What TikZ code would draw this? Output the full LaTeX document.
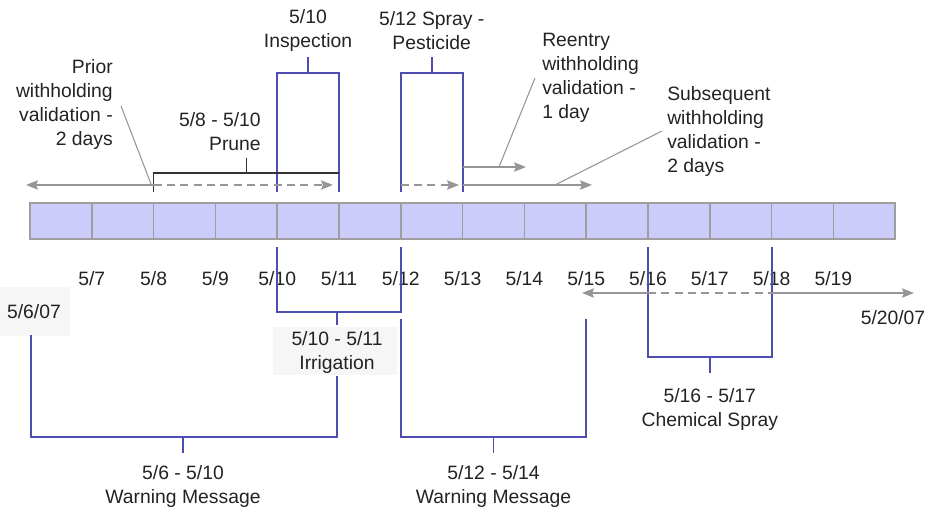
\documentclass[tikz,border=0pt]{standalone}
\usepackage{fontspec}
\setmainfont{Liberation Sans}
\usetikzlibrary{arrows.meta}
\definecolor{bluel}{RGB}{78,78,178}
\definecolor{grayl}{RGB}{150,150,150}
\definecolor{cellfill}{RGB}{204,204,250}
\definecolor{cellline}{RGB}{158,158,158}
\definecolor{labbg}{RGB}{246,246,246}
\definecolor{txt}{RGB}{35,35,35}
\begin{document}
\begin{tikzpicture}[x=0.75pt,y=-0.75pt,
  lbl/.style={font=\fontsize{14.5}{18}\selectfont, inner sep=0pt, align=center, text=txt},
  bl/.style={draw=bluel, line width=1.4pt},
  gl/.style={draw=grayl, line width=1.1pt},
  thingl/.style={draw=grayl, line width=0.8pt},
  garrow/.style={gl, -{Stealth[length=9pt,width=7pt,inset=1.5pt]}},
  gdash/.style={dash pattern=on 6pt off 4pt},
  cell/.style={draw=cellline, fill=cellfill, line width=1.1pt},
  blk/.style={draw=black!80, line width=1.1pt}
]
\useasboundingbox (0,0) rectangle (926,511);

% label backgrounds
\fill[labbg] (0,287) rectangle (70,336);
\fill[labbg] (273,327) rectangle (397,375);

% timeline cells
\foreach \i in {0,...,13} {
  \draw[cell] ({30+61.8*\i},203) rectangle ({30+61.8*(\i+1)},239);
}

% date labels
\foreach \i in {1,...,13} {
  \pgfmathtruncatemacro{\dd}{6+\i}
  \node[lbl] (d\i) at ({30+61.8*\i},279) {5/\dd};
}
\node[lbl] (start) at (34,312) {5/6/07};
\node[lbl] (end) at (893,318) {5/20/07};

% top labels
\node[lbl] (insp) at (308,30.5) {5/10\\Inspection};
\node[lbl] (spray) at (431.7,30.5) {5/12 Spray -\\Pesticide};
\node[lbl, align=right, anchor=east] (prior) at (113,104) {Prior\\withholding\\validation -\\2 days};
\node[lbl, align=right, anchor=east] (prune) at (261,131.5) {5/8 - 5/10\\Prune};
\node[lbl, align=left, anchor=west] (reentry) at (542,78) {Reentry\\withholding\\validation -\\1 day};
\node[lbl, align=left, anchor=west] (subseq) at (667,131.5) {Subsequent\\withholding\\validation -\\2 days};

% bottom labels
\node[lbl] (irr) at (337,352) {5/10 - 5/11\\Irrigation};
\node[lbl] (warn1) at (183,486.5) {5/6 - 5/10\\Warning Message};
\node[lbl] (warn2) at (493.5,486.5) {5/12 - 5/14\\Warning Message};
\node[lbl] (chem) at (709.8,409.5) {5/16 - 5/17\\Chemical Spray};

% inspection bracket
\draw[bl] (277.2,192) -- (277.2,73) -- (339,73) -- (339,192);
\draw[bl] (308,73) -- (308,57);
% spray bracket
\draw[bl] (400.8,192) -- (400.8,73) -- (462.6,73) -- (462.6,192);
\draw[bl] (431.7,73) -- (431.7,57);
% prune bracket
\draw[blk] (153.6,192) -- (153.6,173) -- (339,173);
\draw[blk] (246.3,173) -- (246.3,158);

% withholding arrows
\draw[garrow] (153.6,185) -- (26,185);
\draw[garrow, gdash] (153.6,185) -- (333,185);
\draw[garrow, gdash] (400.8,185) -- (459,185);
\draw[garrow] (462.6,185) -- (592,185);
\draw[garrow] (462.6,167) -- (526,167);

% leader lines
\coordinate (lp) at (151,184);
\coordinate (lr) at (499,167);
\coordinate (ls) at (555,185);
\draw[thingl] (121,106) -- (lp);
\draw[thingl] (535,78) -- (lr);
\draw[thingl] (662,131) -- (ls);

% irrigation bracket
\draw[bl] (277.2,247) -- (277.2,312) -- (400.8,312) -- (400.8,247);
\draw[bl] (337,312) -- (337,325);
% warning 1
\draw[bl] (31,335) -- (31,437) -- (337,437) -- (337,376);
\draw[bl] (183,437) -- (183,453);
% warning 2
\draw[bl] (400.8,319) -- (400.8,437) -- (586.2,437) -- (586.2,319);
\draw[bl] (493.5,437) -- (493.5,453);
% chemical spray
\draw[bl] (648,247) -- (648,357) -- (771.6,357) -- (771.6,247);
\draw[bl] (709.8,357) -- (709.8,373);

% bottom withholding arrows
\draw[garrow] (648,293) -- (582,293);
\draw[gl, gdash] (648,293) -- (771.6,293);
\draw[garrow] (771.6,293) -- (914,293);
\end{tikzpicture}
\end{document}
